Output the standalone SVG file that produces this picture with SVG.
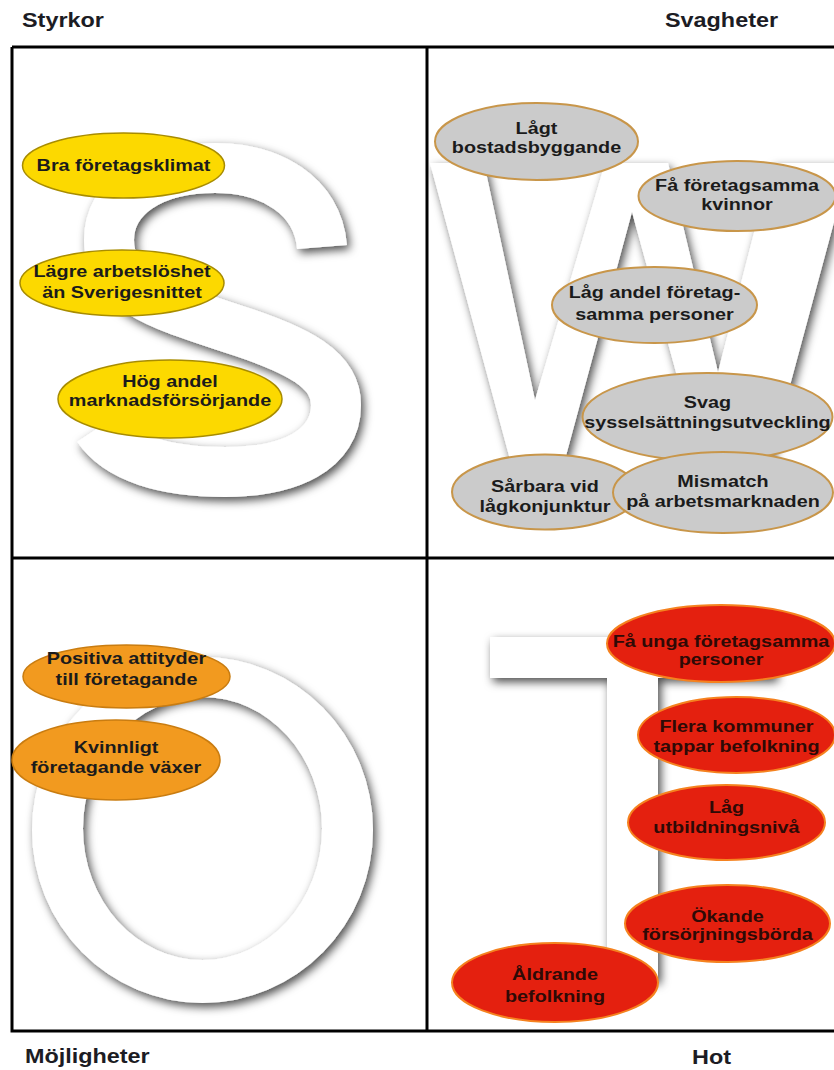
<svg xmlns="http://www.w3.org/2000/svg" width="834" height="1070" viewBox="0 0 834 1070">
  <defs>
    <filter id="glow" x="-20%" y="-20%" width="140%" height="140%">
      <feDropShadow dx="3" dy="4" stdDeviation="5" flood-color="#000" flood-opacity="0.7"/>
    </filter>
    <style>
      .hdr { font-family: "Liberation Sans", Arial, sans-serif; font-weight: bold; font-size: 19.5px; fill: #1c1c24; }
      .t { font-family: "Liberation Sans", Arial, sans-serif; font-weight: bold; font-size: 16.5px; text-anchor: middle; fill: #1b1b1b; }
      .tr { fill: #2e0a06; }
      .letter { fill: #fff; filter: url(#glow); }
      .yel { fill: #fcd900; stroke: #a88c00; stroke-width: 1.5; }
      .gry { fill: #cbcbcb; stroke: #c8964a; stroke-width: 2; }
      .org { fill: #f29a1f; stroke: #c97c10; stroke-width: 1.5; }
      .red { fill: #e4200f; stroke: #f5821f; stroke-width: 2; }
      .grid { fill: none; stroke: #000; stroke-width: 3; }
    </style>
  </defs>

  <rect width="834" height="1070" fill="#fff"/>

  <!-- quadrant headings -->
  <g id="headings">
    <text class="hdr" transform="translate(22 27) scale(1.2 1)">Styrkor</text>
    <text class="hdr" transform="translate(665 27) scale(1.2 1)">Svagheter</text>
    <text class="hdr" transform="translate(25 1063) scale(1.2 1)">Möjligheter</text>
    <text class="hdr" transform="translate(692 1064) scale(1.2 1)">Hot</text>
  </g>

  <!-- large background letters S, W, O, T -->
  <g id="letters">
    <path d="M 322 247 C 318 195, 270 168, 215 168 C 150 168, 109 198, 109 240 C 109 290, 160 305, 230 328 C 300 350, 336 370, 336 405 C 336 450, 290 472, 225 472 C 165 472, 118 458, 98 428"
          fill="none" stroke="#fff" stroke-width="50" filter="url(#glow)"/>
    <polygon class="letter" points="430,163 484,163 535,400 605,163 668,163 718,372 772,163 850,163 765,478 705,478 632,212 560,478 515,478"/>
    <path class="letter" fill-rule="evenodd"
          d="M 32 830 A 170.5 173 0 1 0 373 830 A 170.5 173 0 1 0 32 830 Z M 83 828.5 A 119.5 131.5 0 1 0 322 828.5 A 119.5 131.5 0 1 0 83 828.5 Z"/>
    <polygon class="letter" points="490,637 775,637 775,678 658,678 658,980 607,980 607,678 490,678"/>
  </g>

  <!-- grid -->
  <g id="grid">
    <path class="grid" d="M 12 47 H 834 M 12 47 V 1031 H 834 M 427 47 V 1031 M 12 558 H 834"/>
  </g>

  <!-- Styrkor -->
  <g id="n-bra">
    <ellipse class="yel" cx="123.5" cy="165.5" rx="101" ry="32.5"/>
    <g transform="translate(123.5 0) scale(1.2 1)"><text class="t" x="0" y="171">Bra företagsklimat</text></g>
  </g>
  <g id="n-lagre">
    <ellipse class="yel" cx="122" cy="283" rx="102" ry="33"/>
    <g transform="translate(122 0) scale(1.2 1)"><text class="t"><tspan x="0" y="277">Lägre arbetslöshet</tspan><tspan x="0" y="298">än Sverigesnittet</tspan></text></g>
  </g>
  <g id="n-hog">
    <ellipse class="yel" cx="170" cy="399" rx="112" ry="39"/>
    <g transform="translate(170 0) scale(1.2 1)"><text class="t"><tspan x="0" y="387">Hög andel</tspan><tspan x="0" y="406">marknadsförsörjande</tspan></text></g>
  </g>

  <!-- Svagheter -->
  <g id="n-lagt">
    <ellipse class="gry" cx="536.5" cy="141.5" rx="101.5" ry="38.5"/>
    <g transform="translate(536.5 0) scale(1.2 1)"><text class="t"><tspan x="0" y="134">Lågt</tspan><tspan x="0" y="153">bostadsbyggande</tspan></text></g>
  </g>
  <g id="n-fa-kvinnor">
    <ellipse class="gry" cx="737" cy="196" rx="98.5" ry="35"/>
    <g transform="translate(737 0) scale(1.2 1)"><text class="t"><tspan x="0" y="191">Få företagsamma</tspan><tspan x="0" y="210">kvinnor</tspan></text></g>
  </g>
  <g id="n-lag-andel">
    <ellipse class="gry" cx="654.5" cy="305" rx="102.5" ry="38"/>
    <g transform="translate(654.5 0) scale(1.2 1)"><text class="t"><tspan x="0" y="298">Låg andel företag-</tspan><tspan x="0" y="320">samma personer</tspan></text></g>
  </g>
  <g id="n-svag">
    <ellipse class="gry" cx="707.5" cy="417" rx="125" ry="44"/>
    <g transform="translate(707.5 0) scale(1.2 1)"><text class="t"><tspan x="0" y="408">Svag</tspan><tspan x="0" y="428">sysselsättningsutveckling</tspan></text></g>
  </g>
  <g id="n-sarbara">
    <ellipse class="gry" cx="545" cy="492" rx="93" ry="37.5"/>
    <g transform="translate(545 0) scale(1.2 1)"><text class="t"><tspan x="0" y="492">Sårbara vid</tspan><tspan x="0" y="512">lågkonjunktur</tspan></text></g>
  </g>
  <g id="n-mismatch">
    <ellipse class="gry" cx="723" cy="492.5" rx="110" ry="40.5"/>
    <g transform="translate(723 0) scale(1.2 1)"><text class="t"><tspan x="0" y="487">Mismatch</tspan><tspan x="0" y="507">på arbetsmarknaden</tspan></text></g>
  </g>

  <!-- Möjligheter -->
  <g id="n-positiva">
    <ellipse class="org" cx="126.5" cy="676.5" rx="103.5" ry="31.5"/>
    <g transform="translate(126.5 0) scale(1.2 1)"><text class="t"><tspan x="0" y="664">Positiva attityder</tspan><tspan x="0" y="685">till företagande</tspan></text></g>
  </g>
  <g id="n-kvinnligt">
    <ellipse class="org" cx="116" cy="760" rx="104" ry="40"/>
    <g transform="translate(116 0) scale(1.2 1)"><text class="t"><tspan x="0" y="753">Kvinnligt</tspan><tspan x="0" y="773">företagande växer</tspan></text></g>
  </g>

  <!-- Hot -->
  <g id="n-fa-unga">
    <ellipse class="red" cx="721" cy="643.5" rx="114" ry="38.5"/>
    <g transform="translate(721 0) scale(1.2 1)"><text class="t tr"><tspan x="0" y="647">Få unga företagsamma</tspan><tspan x="0" y="665">personer</tspan></text></g>
  </g>
  <g id="n-flera">
    <ellipse class="red" cx="736.5" cy="735" rx="98.5" ry="38"/>
    <g transform="translate(736.5 0) scale(1.2 1)"><text class="t tr"><tspan x="0" y="732">Flera kommuner</tspan><tspan x="0" y="752">tappar befolkning</tspan></text></g>
  </g>
  <g id="n-lag-utb">
    <ellipse class="red" cx="726.5" cy="822.5" rx="98.5" ry="37.5"/>
    <g transform="translate(726.5 0) scale(1.2 1)"><text class="t tr"><tspan x="0" y="813">Låg</tspan><tspan x="0" y="833">utbildningsnivå</tspan></text></g>
  </g>
  <g id="n-okande">
    <ellipse class="red" cx="727.5" cy="923.5" rx="102.5" ry="38.5"/>
    <g transform="translate(727.5 0) scale(1.2 1)"><text class="t tr"><tspan x="0" y="922">Ökande</tspan><tspan x="0" y="940">försörjningsbörda</tspan></text></g>
  </g>
  <g id="n-aldrande">
    <ellipse class="red" cx="555" cy="982.5" rx="103" ry="39.5"/>
    <g transform="translate(555 0) scale(1.2 1)"><text class="t tr"><tspan x="0" y="980">Åldrande</tspan><tspan x="0" y="1002">befolkning</tspan></text></g>
  </g>
</svg>
